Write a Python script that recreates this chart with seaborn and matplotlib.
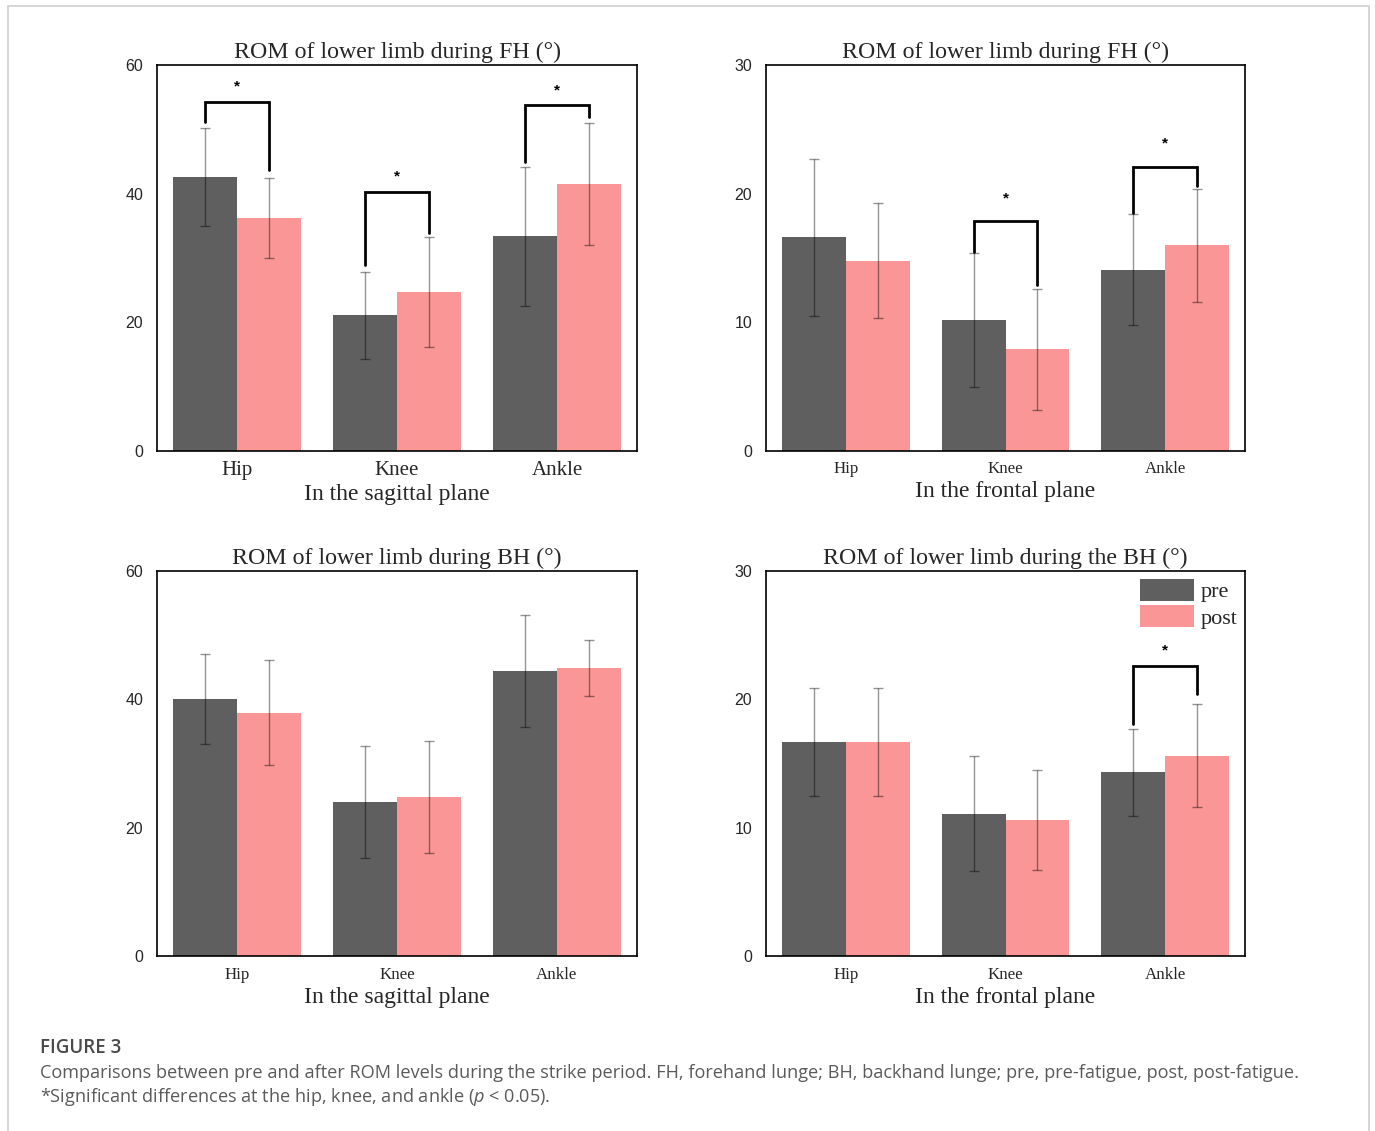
import matplotlib
matplotlib.use("Agg")
import matplotlib.pyplot as plt
from matplotlib.patches import Rectangle
import numpy as np
import pandas as pd
import seaborn as sns

# ---- data -------------------------------------------------------------
joints = ["Hip", "Knee", "Ankle"]
conditions = ["pre", "post"]

fh_sag_pre = [42.6, 21.1, 33.4]
fh_sag_pre_sd = [7.6, 6.8, 10.8]
fh_sag_post = [36.2, 24.7, 41.5]
fh_sag_post_sd = [6.2, 8.5, 9.5]

fh_fro_pre = [16.6, 10.2, 14.1]
fh_fro_pre_sd = [6.1, 5.2, 4.3]
fh_fro_post = [14.8, 7.9, 16.0]
fh_fro_post_sd = [4.5, 4.7, 4.4]

bh_sag_pre = [40.0, 24.0, 44.4]
bh_sag_pre_sd = [7.0, 8.8, 8.7]
bh_sag_post = [37.9, 24.8, 44.9]
bh_sag_post_sd = [8.2, 8.7, 4.4]

bh_fro_pre = [16.7, 11.1, 14.3]
bh_fro_pre_sd = [4.2, 4.5, 3.4]
bh_fro_post = [16.7, 10.6, 15.6]
bh_fro_post_sd = [4.1, 3.9, 4.0]

# significance brackets: (joint index, bracket top, left end, right end, star y)
fh_sag_sig = [(0, 54.3, 51.1, 43.7, 56.7), (1, 40.3, 28.9, 33.9, 42.6), (2, 53.8, 44.9, 51.9, 56.0)]
fh_fro_sig = [(1, 17.9, 15.5, 12.9, 19.6), (2, 22.1, 18.5, 20.6, 23.9)]
bh_sag_sig = []
bh_fro_sig = [(2, 22.6, 18.1, 20.4, 23.8)]

titles = ["ROM of lower limb during FH (°)", "ROM of lower limb during FH (°)",
          "ROM of lower limb during BH (°)", "ROM of lower limb during the BH (°)"]
xlabels = ["In the sagittal plane", "In the frontal plane",
           "In the sagittal plane", "In the frontal plane"]

caption_head = "FIGURE 3"
caption_line1 = ("Comparisons between pre and after ROM levels during the strike period. "
                 "FH, forehand lunge; BH, backhand lunge; pre, pre-fatigue, post, post-fatigue.")
caption_line2 = "*Significant differences at the hip, knee, and ankle ($p$ < 0.05)."

# ---- style ------------------------------------------------------------
sns.set_theme(style="white")
plt.rcParams["font.family"] = ["Liberation Sans", "DejaVu Sans"]
plt.rcParams["mathtext.fontset"] = "custom"
plt.rcParams["mathtext.it"] = "Open Sans:italic"
plt.rcParams["mathtext.rm"] = "Open Sans"

PRE_COLOR = "#5f5f5f"
POST_COLOR = "#fb9696"
SERIF = ["Liberation Serif", "DejaVu Serif"]
CAPTION_FONT = ["Open Sans", "DejaVu Sans"]

W, H = 1375, 1131
fig = plt.figure(figsize=(W / 100, H / 100), dpi=100)
fig.patch.set_facecolor("white")


def px_axes(left, top, right, bottom):
    return fig.add_axes([left / W, 1 - bottom / H, (right - left) / W, (bottom - top) / H])


panels = [
    dict(box=(157, 65, 637, 451), ymax=60, pre=fh_sag_pre, pre_sd=fh_sag_pre_sd,
         post=fh_sag_post, post_sd=fh_sag_post_sd, sig=fh_sag_sig, xt=15, xpad=7),
    dict(box=(766, 65, 1245, 451), ymax=30, pre=fh_fro_pre, pre_sd=fh_fro_pre_sd,
         post=fh_fro_post, post_sd=fh_fro_post_sd, sig=fh_fro_sig, xt=12.2, xpad=7),
    dict(box=(157, 571, 637, 956), ymax=60, pre=bh_sag_pre, pre_sd=bh_sag_pre_sd,
         post=bh_sag_post, post_sd=bh_sag_post_sd, sig=bh_sag_sig, xt=12.2, xpad=8),
    dict(box=(766, 571, 1245, 956), ymax=30, pre=bh_fro_pre, pre_sd=bh_fro_pre_sd,
         post=bh_fro_post, post_sd=bh_fro_post_sd, sig=bh_fro_sig, xt=12.2, xpad=8),
]

for i, p in enumerate(panels):
    ax = px_axes(*p["box"])
    df = pd.DataFrame({
        "joint": joints * 2,
        "cond": [conditions[0]] * 3 + [conditions[1]] * 3,
        "mean": list(p["pre"]) + list(p["post"]),
        "sd": list(p["pre_sd"]) + list(p["post_sd"]),
    })
    sns.barplot(data=df, x="joint", y="mean", hue="cond", order=joints,
                hue_order=conditions, palette=[PRE_COLOR, POST_COLOR],
                errorbar=None, width=0.8, dodge=True, saturation=1,
                linewidth=0, ax=ax, legend=(i == 3))

    # error bars at the centres of the bars seaborn placed
    bars = [b for b in ax.patches if b.get_height() > 0]
    centers = {}
    for b in bars:
        cx = b.get_x() + b.get_width() / 2
        h = b.get_height()
        row = df[np.isclose(df["mean"], h)].iloc[0]
        ax.errorbar(cx, h, yerr=row["sd"], fmt="none", ecolor=(0, 0, 0, 0.42),
                    elinewidth=1.0, capsize=3.5, capthick=1.0, zorder=4)
        centers[(row["joint"], row["cond"])] = cx

    # significance brackets
    for j, top, lend, rend, sy in p["sig"]:
        xl = centers[(joints[j], "pre")]
        xr = centers[(joints[j], "post")]
        ax.plot([xl, xl, xr, xr], [lend, top, top, rend], color="black",
                lw=2.0, solid_joinstyle="miter", zorder=5)
        ax.text((xl + xr) / 2, sy, "*", ha="center", va="center",
                fontsize=11, fontweight="bold", color="black")

    ax.set_xlim(-0.5, 2.5)
    ax.set_ylim(0, p["ymax"])
    step = p["ymax"] / 3
    ax.set_yticks(np.arange(0, p["ymax"] + 0.1, step))
    ax.set_yticks(np.arange(step / 2, p["ymax"], step), minor=True)
    ax.set_yticklabels([f"{v:g}" for v in np.arange(0, p["ymax"] + 0.1, step)],
                       fontsize=11.5)
    ax.set_xticks([0.5, 1.5], minor=True)
    ax.set_xticks([0, 1, 2])
    ax.set_xticklabels(joints, fontsize=p["xt"], family=SERIF)
    ax.tick_params(axis="both", which="both", direction="in", length=3,
                   width=1, color="black")
    ax.tick_params(axis="x", which="both", length=2.5, pad=p["xpad"])
    ax.tick_params(axis="y", which="major", pad=10)
    for s in ax.spines.values():
        s.set_visible(True)
        s.set_color("black")
        s.set_linewidth(1.2)
    ax.set_xlabel(xlabels[i], fontsize=17, family=SERIF, labelpad=3)
    ax.set_ylabel("")
    ax.set_title(titles[i], fontsize=17.2, family=SERIF, pad=5)

    if i == 3:
        handles, labels = ax.get_legend_handles_labels()
        ax.legend(handles, labels, loc="upper right", frameon=False,
                  prop={"family": SERIF, "size": 16}, handlelength=2.4,
                  handleheight=1.15, handletextpad=0.3, labelspacing=0.12,
                  borderaxespad=0.15, borderpad=0.2)

# caption block and page frame
fig.text(40 / W, 1 - 1048 / H, caption_head, fontsize=13.5, color="#4a4a4a",
         family=CAPTION_FONT, fontweight="semibold", va="center", ha="left")
fig.text(40 / W, 1 - 1073 / H, caption_line1, fontsize=13.1, color="#5a5a5a",
         family=CAPTION_FONT, va="center", ha="left")
fig.text(40 / W, 1 - 1097 / H, caption_line2, fontsize=13.1, color="#5a5a5a",
         family=CAPTION_FONT, va="center", ha="left")

fig.add_artist(Rectangle((8 / W, -0.02), (1369 - 8) / W, 1 - 6 / H + 0.02,
                         transform=fig.transFigure, fill=False,
                         edgecolor="#d2d2d2", linewidth=1.3))

fig.savefig("out.png", dpi=100, facecolor="white")
